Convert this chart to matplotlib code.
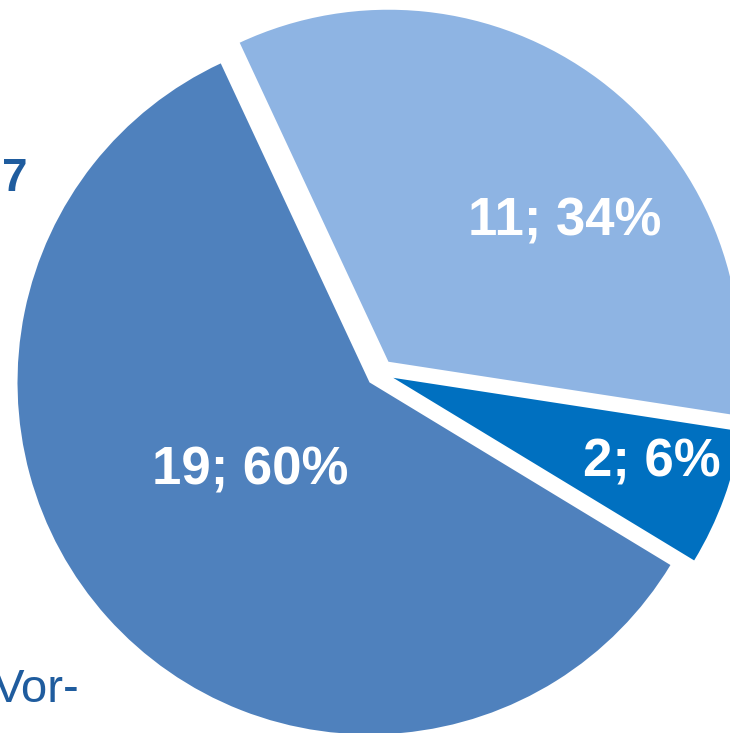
import matplotlib
matplotlib.use("Agg")
import matplotlib.pyplot as plt

categories = ["A", "B", "C"]
values = [11, 2, 19]
percents = ["34%", "6%", "60%"]
colors = ["#8EB4E3", "#0070C0", "#4F81BD"]
label_pos = [(0.526, 0.429), (0.773, -0.253), (-0.369, -0.276)]

W, H = 730, 733
fig = plt.figure(figsize=(W / 100, H / 100), dpi=100)
ax = fig.add_axes([0, 0, 1, 1])
ax.axis("off")

cx, cy, r = 380, 373, 352
ax.pie(values, colors=colors, startangle=115, counterclock=False,
       explode=[0.04, 0.04, 0.04], radius=1, center=(0, 0),
       wedgeprops=dict(linewidth=0))
ax.set_xlim(-cx / r, (W - cx) / r)
ax.set_ylim(-(H - cy) / r, cy / r)
ax.set_aspect("auto")

for v, p, (x, y) in zip(values, percents, label_pos):
    ax.text(x, y, f"{v}; {p}", ha="center", va="center", color="white",
            fontsize=38, fontweight="bold", family="Liberation Sans")

fig.text(28 / W, 1 - 191 / H, "7", ha="right", va="baseline", color="#1F5C9E",
         fontsize=33, fontweight="bold", family="Liberation Sans")
fig.text(80 / W, 1 - 702 / H, "Vor-", ha="right", va="baseline", color="#1F5C9E",
         fontsize=34, family="Liberation Sans")

fig.savefig("out.png", dpi=100)
